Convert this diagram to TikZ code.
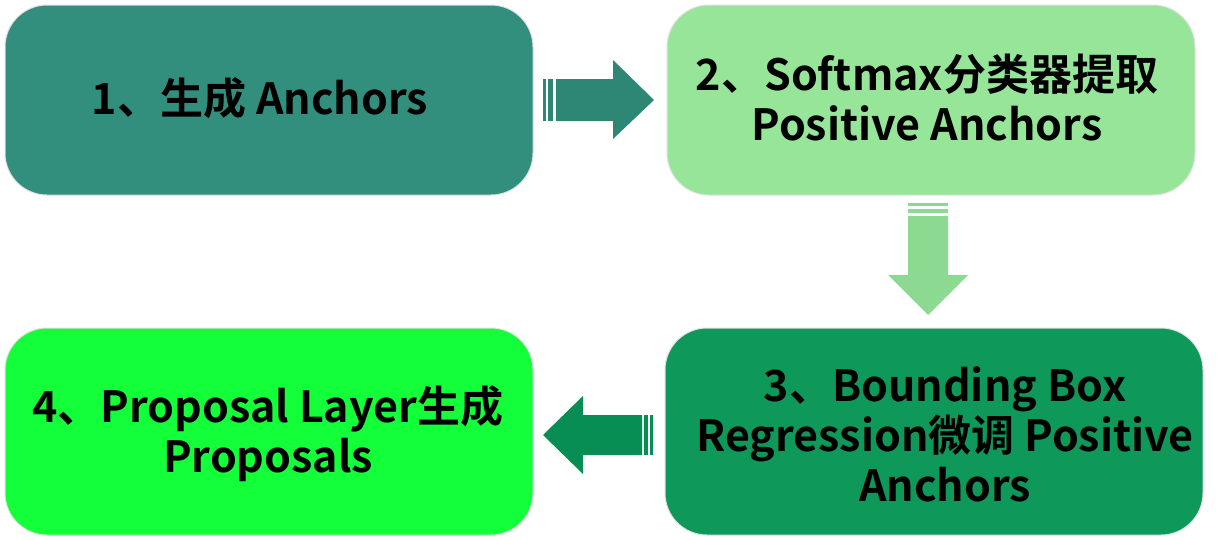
\documentclass[tikz,border=0pt]{standalone}
\usepackage{fontspec}
\setmainfont{Noto Sans CJK SC}[BoldFont={* Bold}]
\begin{document}
\begin{tikzpicture}[x=1pt,y=-1pt,
  box/.style={draw=black!12,line width=1pt,rounded corners=42pt},
  lbl/.style={font=\bfseries\fontsize{43}{50}\selectfont,align=center,text=black},
]
\useasboundingbox (0,0) rectangle (1227,539);
\definecolor{cA}{RGB}{50,143,126}
\definecolor{cB}{RGB}{150,229,153}
\definecolor{cC}{RGB}{14,152,90}
\definecolor{cD}{RGB}{18,255,58}
\definecolor{aA}{RGB}{46,135,116}
\definecolor{aB}{RGB}{140,217,145}
\definecolor{aC}{RGB}{7,142,85}
\fill[cA,box] (5,5) rectangle (533,195);
\fill[cB,box] (667,5) rectangle (1195,195);
\fill[cC,box] (665,328) rectangle (1203,535);
\fill[cD,box] (5,328) rectangle (533,535);
\node[lbl] (n1) at (260,98) {1、生成 Anchors};
\node[lbl] (n2) at (927,98) {2、Softmax分类器提取\\Positive Anchors};
\node[lbl] (n3) at (945,434) {3、Bounding Box\\Regression微调 Positive\\Anchors};
\node[lbl] (n4) at (268,434) {4、Proposal Layer生成\\Proposals};
% arrow right
\fill[aA] (543,79) rectangle (546,121);
\fill[aA] (548,79) rectangle (553,121);
\fill[aA] (556,79) -- (613,79) -- (613,60) -- (654,100) -- (613,139) -- (613,121) -- (556,121) -- cycle;
% arrow down
\fill[aB] (908,203) rectangle (948,206);
\fill[aB] (908,209) rectangle (948,213);
\fill[aB] (908,216) -- (948,216) -- (948,275) -- (968,275) -- (928,315) -- (888,275) -- (908,275) -- cycle;
% arrow left
\fill[aC] (653,415) rectangle (650,455);
\fill[aC] (648,415) rectangle (644,455);
\fill[aC] (642,415) -- (583,415) -- (583,396) -- (543,435) -- (583,474) -- (583,455) -- (642,455) -- cycle;
\end{tikzpicture}
\end{document}
